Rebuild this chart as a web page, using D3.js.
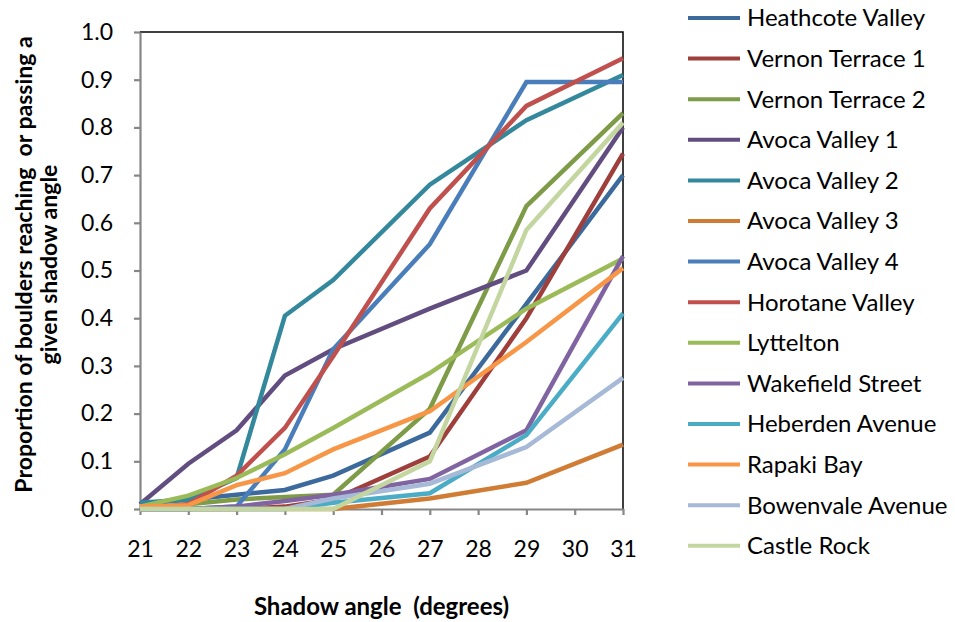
<!DOCTYPE html>
<html>
<head>
<meta charset="utf-8">
<script src="https://cdn.jsdelivr.net/npm/d3@7"></script>
<style>
  body { margin: 0; background: #fff; }
  text { font-family: Lato, "Open Sans", sans-serif; fill: #000; }
  .axis path, .axis line { stroke: #868686; }
</style>
</head>
<body>
<div id="root"></div>
<script>
const angles = [21, 22, 23, 24, 25, 27, 29, 31];
const xTicks = [21, 22, 23, 24, 25, 26, 27, 28, 29, 30, 31];
const yTicks = [0, 0.1, 0.2, 0.3, 0.4, 0.5, 0.6, 0.7, 0.8, 0.9, 1.0];

const siteNames = ["Heathcote Valley", "Vernon Terrace 1", "Vernon Terrace 2", "Avoca Valley 1",
  "Avoca Valley 2", "Avoca Valley 3", "Avoca Valley 4", "Horotane Valley", "Lyttelton",
  "Wakefield Street", "Heberden Avenue", "Rapaki Bay", "Bowenvale Avenue", "Castle Rock"];

const heathcote = [0.01, 0.02, 0.03, 0.04, 0.07, 0.16, 0.43, 0.70];
const vernon1   = [0, 0, 0, 0.005, 0.02, 0.11, 0.40, 0.745];
const vernon2   = [0, 0.01, 0.02, 0.025, 0.03, 0.21, 0.635, 0.83];
const avoca1    = [0.01, 0.095, 0.165, 0.28, 0.335, 0.42, 0.50, 0.80];
const avoca2    = [0.013, 0.02, 0.065, 0.405, 0.48, 0.68, 0.815, 0.91];
const avoca3    = [0, 0, 0, 0, 0, 0.022, 0.055, 0.135];
const avoca4    = [0, 0, 0.005, 0.125, 0.335, 0.555, 0.895, 0.895];
const horotane  = [0, 0.01, 0.07, 0.17, 0.32, 0.63, 0.845, 0.945];
const lyttelton = [0.005, 0.028, 0.065, 0.115, 0.17, 0.285, 0.42, 0.525];
const wakefield = [0, 0, 0.005, 0.017, 0.03, 0.063, 0.165, 0.53];
const heberden  = [0, 0, 0, 0, 0.013, 0.033, 0.155, 0.41];
const rapaki    = [0.005, 0.008, 0.05, 0.075, 0.125, 0.205, 0.35, 0.505];
const bowenvale = [0, 0, 0, 0, 0.022, 0.053, 0.13, 0.275];
const castle    = [0, 0, 0, 0, 0, 0.10, 0.585, 0.81];

const seriesValues = [heathcote, vernon1, vernon2, avoca1, avoca2, avoca3, avoca4,
  horotane, lyttelton, wakefield, heberden, rapaki, bowenvale, castle];

const colors = ["#3C6A9C", "#9E3F3C", "#7E9B48", "#624D80", "#34889C", "#D07C34", "#4A7EBB",
  "#C0504D", "#9BBB59", "#8064A2", "#4BACC6", "#F79646", "#A6B9D6", "#C4D6A0"];

const outerWidth = 955;
const outerHeight = 622;
const margin = { top: 32, right: 332, bottom: 113, left: 140 };
const width = outerWidth - margin.left - margin.right;
const height = outerHeight - margin.top - margin.bottom;

const scaleX = d3.scaleLinear().domain([21, 31]).range([0, width]);
const scaleY = d3.scaleLinear().domain([0, 1]).range([height, 0]);

const svg = d3.select("#root")
  .append("svg")
  .attr("width", outerWidth)
  .attr("height", outerHeight);

const chart = svg.append("g")
  .attr("transform", `translate(${margin.left}, ${margin.top})`);

// top and right frame
chart.append("path")
  .attr("d", `M0,0H${width}V${height}`)
  .attr("fill", "none")
  .attr("stroke", "#000")
  .attr("stroke-width", 1.5);

const yAxis = d3.axisLeft(scaleY)
  .tickValues(yTicks)
  .tickFormat(d3.format(".1f"))
  .tickSize(6)
  .tickPadding(21)
  .tickSizeOuter(0);

const xAxis = d3.axisBottom(scaleX)
  .tickValues(xTicks)
  .tickFormat(d3.format("d"))
  .tickSize(6)
  .tickPadding(26)
  .tickSizeOuter(0);

chart.append("g")
  .attr("class", "y axis")
  .call(yAxis);

chart.append("g")
  .attr("class", "x axis")
  .attr("transform", `translate(0, ${height})`)
  .call(xAxis);

chart.selectAll(".axis path, .axis line").attr("stroke-width", 2.2);
chart.selectAll(".axis text")
  .style("font-size", "23px")
  .attr("fill", "#000");

const line = d3.line()
  .x((d, i) => scaleX(angles[i]))
  .y(d => scaleY(d));

chart.selectAll(".series")
  .data(seriesValues)
  .enter().append("path")
  .attr("class", "series")
  .attr("d", d => line(d))
  .attr("fill", "none")
  .attr("stroke", (d, i) => colors[i])
  .attr("stroke-width", 4.5)
  .attr("stroke-linejoin", "miter");

// axis titles
svg.append("text")
  .attr("x", margin.left + width / 2)
  .attr("y", 615)
  .attr("xml:space", "preserve")
  .style("white-space", "pre")
  .style("text-anchor", "middle")
  .style("font-size", "24px")
  .style("font-weight", "bold")
  .text("Shadow angle  (degrees)");

const yTitle = svg.append("text")
  .attr("transform", `translate(0, ${margin.top + height / 2 - 6}) rotate(-90)`)
  .attr("xml:space", "preserve")
  .style("white-space", "pre")
  .style("text-anchor", "middle")
  .style("font-size", "23px")
  .style("font-weight", "bold");
yTitle.append("tspan").attr("x", 0).attr("y", 32).text("Proportion of boulders reaching  or passing a");
yTitle.append("tspan").attr("x", 0).attr("y", 57).text("given shadow angle");

// legend
const legend = svg.append("g")
  .attr("transform", "translate(688, 18)");

const item = legend.selectAll(".legend-item")
  .data(siteNames)
  .enter().append("g")
  .attr("class", "legend-item")
  .attr("transform", (d, i) => `translate(0, ${i * 40.6})`);

item.append("line")
  .attr("x1", 0)
  .attr("x2", 52)
  .attr("stroke", (d, i) => colors[i])
  .attr("stroke-width", 4);

item.append("text")
  .attr("x", 59)
  .attr("dy", "0.35em")
  .style("font-size", "24px")
  .text(d => d);
</script>
</body>
</html>
